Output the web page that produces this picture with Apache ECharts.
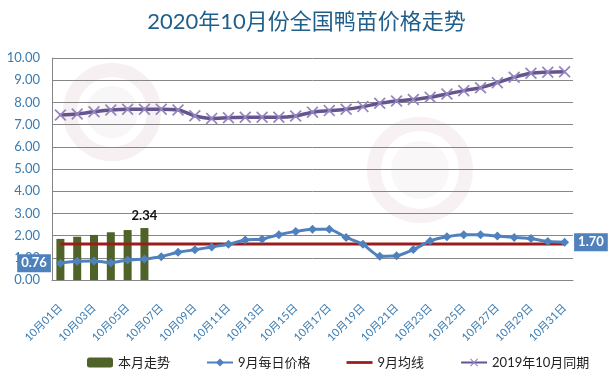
<!DOCTYPE html>
<html>
<head>
<meta charset="utf-8">
<script src="https://cdn.jsdelivr.net/npm/echarts@6/dist/echarts.min.js"></script>
<style>
  html, body { margin: 0; padding: 0; background: #fff; }
  #chart { width: 613px; height: 376px; }
</style>
</head>
<body>
<div id="chart"></div>
<script>
// categories: 10月01日 ... 10月31日
const days = ['10月01日','10月02日','10月03日','10月04日','10月05日','10月06日','10月07日','10月08日',
  '10月09日','10月10日','10月11日','10月12日','10月13日','10月14日','10月15日','10月16日',
  '10月17日','10月18日','10月19日','10月20日','10月21日','10月22日','10月23日','10月24日',
  '10月25日','10月26日','10月27日','10月28日','10月29日','10月30日','10月31日']

// 本月走势 (only the first days have data)
const thisMonth = [1.85, 1.95, 2.03, 2.15, 2.25, 2.34]

// 9月每日价格
const septDaily = [0.76, 0.84, 0.86, 0.78, 0.90, 0.95, 1.05, 1.25, 1.36, 1.49, 1.61, 1.80,
  1.84, 2.04, 2.19, 2.29, 2.29, 1.92, 1.61, 1.07, 1.09, 1.37, 1.76, 1.95, 2.04, 2.04,
  1.98, 1.92, 1.87, 1.73, 1.70]

// 9月均线
const septAvg = 1.62

// 2019年10月同期
const lastYear = [7.43, 7.48, 7.58, 7.66, 7.69, 7.69, 7.69, 7.66, 7.40, 7.28, 7.31, 7.33,
  7.33, 7.33, 7.39, 7.56, 7.63, 7.69, 7.81, 7.96, 8.06, 8.13, 8.23, 8.38, 8.53, 8.66,
  8.89, 9.13, 9.31, 9.36, 9.38]

const yTicks = { min: 0, max: 10, interval: 1 }

const font = 'Lato, "Noto Sans CJK SC", sans-serif'
const crossPath = 'path://M0,1L1,0L5,4L9,0L10,1L6,5L10,9L9,10L5,6L1,10L0,9L4,5Z'

const boxLabel = (pos) => ({
  show: true,
  position: pos,
  distance: 5,
  formatter: (p) => p.value.toFixed(2),
  backgroundColor: '#4f81bd',
  color: '#fff',
  fontSize: 13,
  fontWeight: 'bold',
  fontFamily: font,
  padding: [3, 4, 2, 4]
})

const chart = echarts.init(document.getElementById('chart'))

const option = {
  animation: false,
  backgroundColor: '#fff',
  title: {
    text: '2020年10月份全国鸭苗价格走势',
    left: 'center',
    top: 6,
    textStyle: { color: '#1f5f8b', fontSize: 22, fontWeight: 'normal', fontFamily: font }
  },
  graphic: [
    { type: 'circle', shape: { cx: 112, cy: 112, r: 42 }, style: { fill: 'none', stroke: '#c9a3b1', lineWidth: 14, opacity: 0.16 }, z: -1 },
    { type: 'circle', shape: { cx: 112, cy: 112, r: 26 }, style: { fill: '#c9a3b1', opacity: 0.1 }, z: -1 },
    { type: 'circle', shape: { cx: 420, cy: 170, r: 46 }, style: { fill: 'none', stroke: '#c9a3b1', lineWidth: 14, opacity: 0.15 }, z: -1 },
    { type: 'circle', shape: { cx: 420, cy: 170, r: 29 }, style: { fill: '#c9a3b1', opacity: 0.09 }, z: -1 }
  ],
  grid: { left: 52, right: 40, top: 58, bottom: 96 },
  legend: {
    bottom: 2,
    left: 82,
    itemGap: 36,
    itemWidth: 26,
    itemHeight: 10,
    textStyle: { color: '#222', fontSize: 13, fontFamily: font },
    data: [
      '本月走势',
      '9月每日价格',
      { name: '9月均线', icon: 'path://M0,0L30,0L30,3.2L0,3.2Z' },
      '2019年10月同期'
    ]
  },
  xAxis: {
    type: 'category',
    data: days,
    boundaryGap: true,
    axisLine: { lineStyle: { color: '#868686' } },
    axisTick: { show: false },
    axisLabel: {
      interval: 1,
      rotate: 45,
      margin: 26,
      color: '#3a7bb0',
      fontSize: 11,
      fontFamily: font
    }
  },
  yAxis: {
    type: 'value',
    min: yTicks.min,
    max: yTicks.max,
    interval: yTicks.interval,
    axisLine: { show: true, lineStyle: { color: '#868686' } },
    axisTick: { show: false },
    splitLine: { lineStyle: { color: '#868686' } },
    axisLabel: {
      formatter: (v) => v.toFixed(2),
      color: '#3a7bb0',
      fontSize: 13,
      margin: 12,
      fontFamily: font
    }
  },
  series: [
    {
      name: '本月走势',
      type: 'bar',
      barWidth: 8,
      itemStyle: { color: '#4f6228' },
      data: thisMonth.map((v, i) => i === thisMonth.length - 1
        ? { value: v, label: { show: true, position: 'top', distance: 6, color: '#111', fontWeight: 'bold', fontSize: 13, fontFamily: font, formatter: (p) => p.value.toFixed(2) } }
        : v),
      z: 2
    },
    {
      name: '9月均线',
      type: 'line',
      symbol: 'none',
      lineStyle: { color: '#9b1c1c', width: 3 },
      itemStyle: { color: '#9b1c1c' },
      data: days.map(() => septAvg),
      z: 3
    },
    {
      name: '9月每日价格',
      type: 'line',
      smooth: 0.2,
      symbol: 'diamond',
      symbolSize: 9,
      showAllSymbol: true,
      lineStyle: { color: '#4f81bd', width: 3 },
      itemStyle: { color: '#4f81bd' },
      data: septDaily.map((v, i) => {
        if (i === 0) return { value: v, label: boxLabel('left') }
        if (i === septDaily.length - 1) return { value: v, label: boxLabel('right') }
        return v
      }),
      z: 4
    },
    {
      name: '2019年10月同期',
      type: 'line',
      smooth: 0.3,
      symbol: crossPath,
      symbolSize: 12,
      showAllSymbol: true,
      lineStyle: { color: '#64558f', width: 3.5 },
      itemStyle: { color: '#9584bd' },
      data: lastYear,
      z: 4
    }
  ]
}

chart.setOption(option)
</script>
</body>
</html>
